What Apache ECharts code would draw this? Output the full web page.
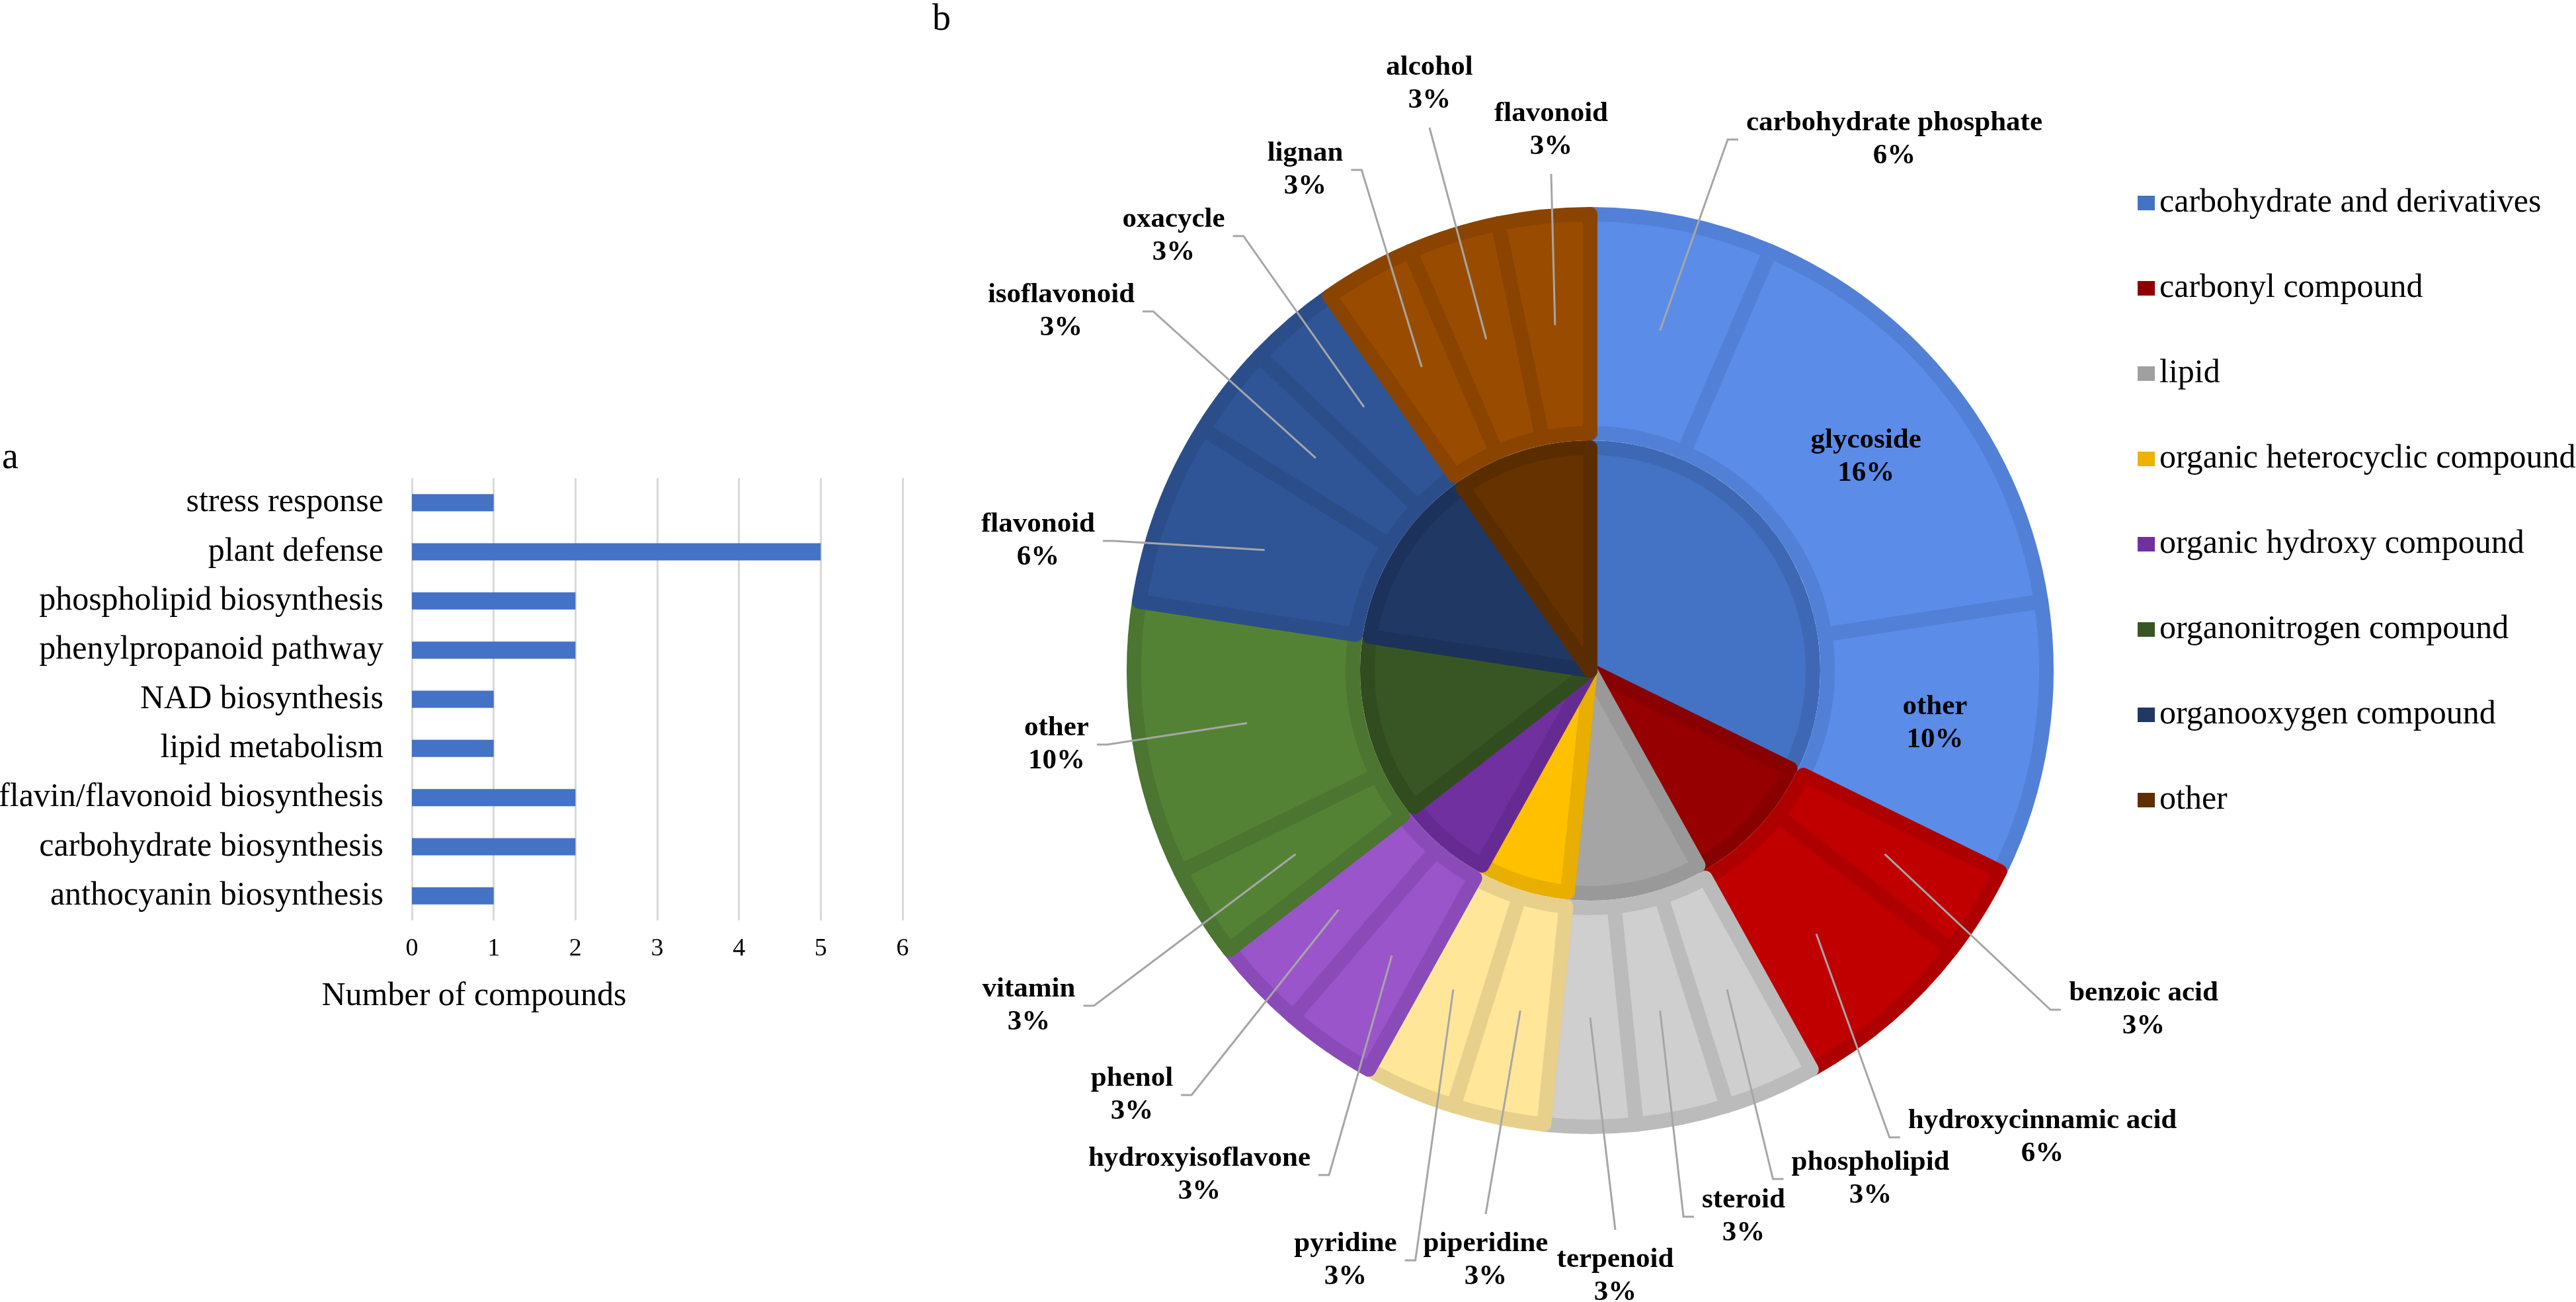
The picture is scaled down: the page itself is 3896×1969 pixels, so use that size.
<!DOCTYPE html>
<html>
<head>
<meta charset="utf-8">
<title>Compounds</title>
<script src="https://cdn.jsdelivr.net/npm/echarts@6/dist/echarts.min.js"></script>
<style>
html, body { margin: 0; padding: 0; background: #fff; }
#main { width: 3896px; height: 1969px; }
</style>
</head>
<body>
<div id="main"></div>
<script>
// panel a: pathways
var pathways = ['stress response', 'plant defense', 'phospholipid biosynthesis', 'phenylpropanoid pathway',
  'NAD biosynthesis', 'lipid metabolism', 'flavin/flavonoid biosynthesis', 'carbohydrate biosynthesis',
  'anthocyanin biosynthesis'];
var pathwayCounts = [1, 5, 2, 2, 1, 1, 2, 2, 1];

// panel b: compound classes (inner ring) and subclasses (outer ring)
var classes = ['carbohydrate and derivatives', 'carbonyl compound', 'lipid', 'organic heterocyclic compound',
  'organic hydroxy compound', 'organonitrogen compound', 'organooxygen compound', 'other'];
var classCounts = [10, 3, 3, 2, 2, 4, 4, 3];
var subclasses = ['carbohydrate phosphate', 'glycoside', 'other', 'benzoic acid', 'hydroxycinnamic acid',
  'phospholipid', 'steroid', 'terpenoid', 'piperidine', 'pyridine', 'hydroxyisoflavone', 'phenol',
  'vitamin', 'other', 'flavonoid', 'isoflavonoid', 'oxacycle', 'lignan', 'alcohol', 'flavonoid'];
var subclassCounts = [2, 5, 3, 1, 2, 1, 1, 1, 1, 1, 1, 1, 1, 3, 2, 1, 1, 1, 1, 1];
var subclassOf = [0, 0, 0, 1, 1, 2, 2, 2, 3, 3, 4, 4, 5, 5, 6, 6, 6, 7, 7, 7];

// colours
var legendFill = ['#4472C4', '#8E0000', '#A0A0A0', '#EEB200', '#7030A0', '#375623', '#203864', '#5E2E00'];
var innerFill = ['#4472C4', '#960000', '#A5A5A5', '#FFC000', '#7030A0', '#375623', '#203864', '#663300'];
var innerEdge = ['#3E68B4', '#880000', '#999999', '#E8AE00', '#662B92', '#314D1F', '#1C325A', '#5A2D00'];
var outerFill = ['#5B8CE8', '#C00000', '#CFCFCF', '#FFE699', '#9A55CB', '#548235', '#2F5597', '#994C00'];
var outerEdge = ['#5180D6', '#AE0000', '#BBBBBB', '#E7D08C', '#8A4BB8', '#4B7530', '#2B4E8A', '#8A4400'];

// where each outer label sits, relative to the pie centre (null = inside the slice)
var labelSpots = [[460, -803], null, null, [837, 513], [684, 706], [424, 769], [232, 826], [38, 916],
  [-158, 892], [-370, 892], [-591, 763], [-693, 642], [-849, 507], [-807, 112], [-835, -196],
  [-800, -543], [-630, -657], [-431, -757], [-243, -887], [-59, -817]];

var CX = 2405, CY = 1014;
var R_INNER = 348, R_OUTER = 701, EDGE = 22, R_ANCHOR = 525;
var serif = '"Liberation Serif", "Times New Roman", serif';

var total = 0;
for (var i = 0; i < subclassCounts.length; i++) total += subclassCounts[i];

function midAngle(idx) {
  var s = 0;
  for (var k = 0; k < idx; k++) s += subclassCounts[k];
  return (s + subclassCounts[idx] / 2) / total * Math.PI * 2;
}

var innerData = classes.map(function (name, i) {
  return { name: name, value: classCounts[i], itemStyle: { color: innerFill[i], borderColor: innerEdge[i] } };
});

var outerData = subclasses.map(function (name, i) {
  var g = subclassOf[i];
  return { name: name, value: subclassCounts[i], itemStyle: { color: outerFill[g], borderColor: outerEdge[g] } };
});

// same slices, drawn invisibly on top so the labels and leader lines sit above the rings
var labelData = subclasses.map(function (name, i) {
  var item = { name: name, value: subclassCounts[i] };
  if (!labelSpots[i]) {
    item.label = { position: 'inside' };
    item.labelLine = { show: false };
  }
  return item;
});

var chart = echarts.init(document.getElementById('main'), null, { renderer: 'canvas' });

var option = {
  backgroundColor: '#fff',
  animation: false,
  graphic: [
    { type: 'text', left: 3, top: 665, style: { text: 'a', font: '56px ' + serif, fill: '#000' } },
    { type: 'text', left: 1410, top: 2, style: { text: 'b', font: '56px ' + serif, fill: '#000' } }
  ],
  legend: {
    orient: 'vertical',
    left: 3228,
    top: 277,
    itemWidth: 26,
    itemHeight: 22,
    itemGap: 79,
    icon: 'rect',
    selectedMode: false,
    itemStyle: { borderWidth: 0 },
    textStyle: { fontFamily: serif, fontSize: 50, color: '#000', padding: [0, 0, 0, 2] },
    data: classes.map(function (name, i) {
      return { name: name, itemStyle: { color: legendFill[i], borderWidth: 0 } };
    })
  },
  grid: {
    left: 623, top: 723, width: 742, height: 669,
    containLabel: false, outerBoundsMode: 'none'
  },
  xAxis: {
    type: 'value',
    min: 0, max: 6, interval: 1,
    axisLine: { show: false },
    axisTick: { show: false },
    axisLabel: { fontFamily: serif, fontSize: 38, color: '#000', margin: 24 },
    splitLine: { show: true, lineStyle: { color: '#D9D9D9', width: 3 } },
    name: 'Number of compounds',
    nameLocation: 'middle',
    nameGap: 90,
    nameTextStyle: { fontFamily: serif, fontSize: 50, color: '#000', padding: [0, 554, 0, 0] }
  },
  yAxis: {
    type: 'category',
    inverse: true,
    data: pathways,
    axisLine: { show: false },
    axisTick: { show: false },
    axisLabel: { fontFamily: serif, fontSize: 50, color: '#000', margin: 43, interval: 0 }
  },
  series: [
    {
      type: 'bar',
      data: pathwayCounts,
      barWidth: 26,
      itemStyle: { color: '#4472C4' },
      silent: true
    },
    {
      type: 'pie',
      name: 'class',
      center: [CX, CY],
      radius: [0, R_INNER - EDGE / 2],
      startAngle: 90,
      clockwise: true,
      silent: true,
      emphasis: { disabled: true },
      itemStyle: { borderWidth: EDGE },
      label: { show: false },
      labelLine: { show: false },
      data: innerData
    },
    {
      type: 'pie',
      name: 'subclass',
      center: [CX, CY],
      radius: [R_INNER + EDGE / 2, R_OUTER - EDGE / 2],
      startAngle: 90,
      clockwise: true,
      silent: true,
      emphasis: { disabled: true },
      itemStyle: { borderWidth: EDGE },
      label: { show: false },
      labelLine: { show: false },
      data: outerData
    },
    {
      type: 'pie',
      name: 'subclass labels',
      z: 5,
      center: [CX, CY],
      radius: [R_INNER + EDGE / 2, R_OUTER - EDGE / 2],
      startAngle: 90,
      clockwise: true,
      avoidLabelOverlap: false,
      silent: true,
      emphasis: { disabled: true },
      itemStyle: { color: 'rgba(0,0,0,0)', borderWidth: 0 },
      data: labelData,
      label: {
        show: true,
        position: 'outside',
        fontFamily: serif,
        fontWeight: 'bold',
        fontSize: 43,
        lineHeight: 50,
        color: '#000',
        align: 'center',
        formatter: function (p) {
          return p.name + '\n' + Math.round(p.value / total * 100) + '%';
        }
      },
      labelLine: { show: true, lineStyle: { color: '#A6A6A6', width: 3 } },
      labelLayout: function (params) {
        var i = params.dataIndex;
        var spot = labelSpots[i];
        if (!spot) return {};
        var a = midAngle(i);
        var ax = CX + R_ANCHOR * Math.sin(a), ay = CY - R_ANCHOR * Math.cos(a);
        var cx = CX + spot[0], cy = CY + spot[1];
        var w = params.labelRect.width, h = params.labelRect.height;
        var lx = cx - w / 2, rx = cx + w / 2;
        var pts;
        if (ax >= lx - 40 && ax <= rx + 40) {
          var ey = ay < cy ? cy - h / 2 - 20 : cy + h / 2 + 16;
          pts = [[ax, ay], [cx, ey], [cx, ey]];
        } else if (ax < lx) {
          pts = [[ax, ay], [lx - 28, cy], [lx - 12, cy]];
        } else {
          pts = [[ax, ay], [rx + 28, cy], [rx + 12, cy]];
        }
        return { x: cx, y: cy, align: 'center', verticalAlign: 'middle', labelLinePoints: pts };
      }
    }
  ]
};

chart.setOption(option);
</script>
</body>
</html>
